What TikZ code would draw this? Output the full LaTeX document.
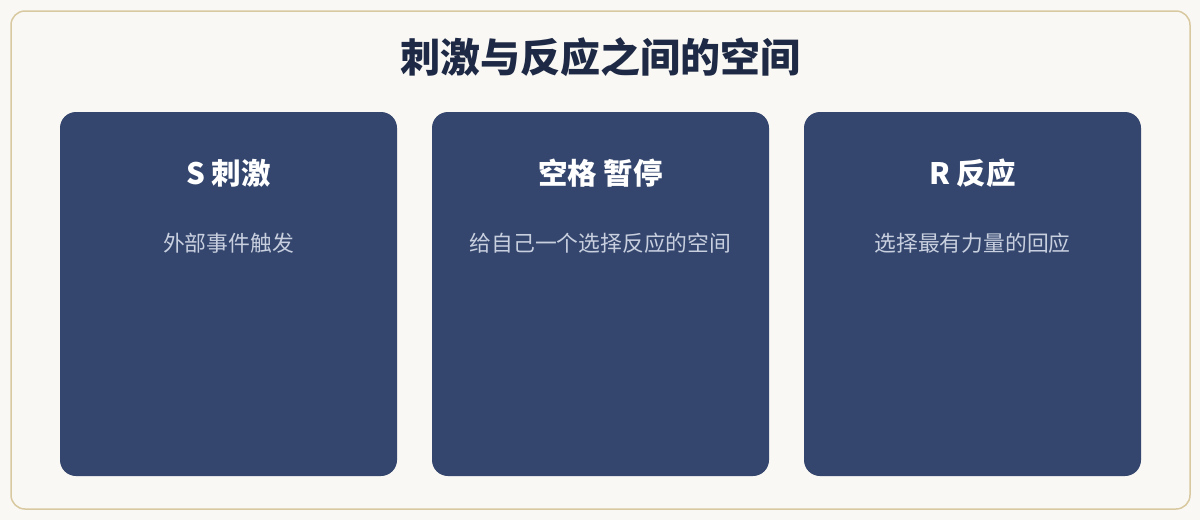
\documentclass[tikz,border=0pt]{standalone}
\usepackage{fontspec}
\setmainfont{Noto Sans CJK SC}
\definecolor{bgc}{HTML}{FAF8F4}
\definecolor{framec}{HTML}{D9C9A0}
\definecolor{cardc}{HTML}{34466D}
\definecolor{titlec}{HTML}{1E2A45}
\definecolor{subc}{HTML}{C8CFDF}
\tikzset{
  card/.style={fill=cardc, rounded corners=16pt},
  cardhead/.style={text=white, font=\fontsize{29.5}{34}\selectfont\bfseries, anchor=center, inner sep=0pt},
  cardsub/.style={text=subc, font=\fontsize{21.8}{26}\selectfont, anchor=center, inner sep=0pt},
}
\begin{document}
\begin{tikzpicture}[x=1pt,y=-1pt]
\fill[bgc] (0,0) rectangle (1200,520);
\useasboundingbox (0,0) rectangle (1200,520);
\draw[framec, line width=1.5pt, rounded corners=14pt] (11,11) rectangle (1190,509);
\node[text=titlec, font=\fontsize{40}{46}\selectfont\bfseries, inner sep=0pt] (title) at (600,57) {刺激与反应之间的空间};
\foreach \x/\n/\h/\s in {60/s/S 刺激/外部事件触发, 432/p/空格 暂停/给自己一个选择反应的空间, 804/r/R 反应/选择最有力量的回应}{
  \fill[card] (\x,112) rectangle ++(337,364);
  \node[cardhead] (\n head) at (\x+168.5,173) {\h};
  \node[cardsub] (\n sub) at (\x+168.5,243) {\s};
}
\end{tikzpicture}
\end{document}
